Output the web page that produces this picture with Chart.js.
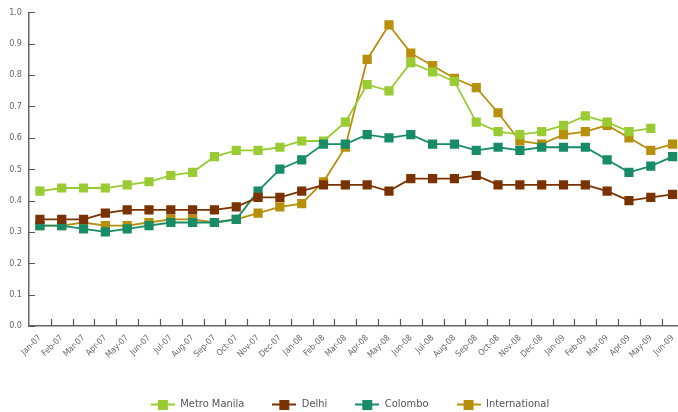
<!DOCTYPE html>
<html>
<head>
<meta charset="utf-8">
<script src="https://cdn.jsdelivr.net/npm/chart.js@4/dist/chart.umd.min.js"></script>
<style>
  html, body { margin: 0; padding: 0; background: #fff; overflow: hidden; }
  #wrap { width: 690px; height: 420px; }
</style>
</head>
<body>
<div id="wrap"><canvas id="chart" width="690" height="420"></canvas></div>
<script>
const months = ['Jan-07','Feb-07','Mar-07','Apr-07','May-07','Jun-07','Jul-07','Aug-07','Sep-07','Oct-07','Nov-07','Dec-07',
                'Jan-08','Feb-08','Mar-08','Apr-08','May-08','Jun-08','Jul-08','Aug-08','Sep-08','Oct-08','Nov-08','Dec-08',
                'Jan-09','Feb-09','Mar-09','Apr-09','May-09','Jun-09'];

const metroManila = [0.43,0.44,0.44,0.44,0.45,0.46,0.48,0.49,0.54,0.56,0.56,0.57,
                     0.59,0.59,0.65,0.77,0.75,0.84,0.81,0.78,0.65,0.62,0.61,0.62,
                     0.64,0.67,0.65,0.62,0.63,null];
const delhi = [0.34,0.34,0.34,0.36,0.37,0.37,0.37,0.37,0.37,0.38,0.41,0.41,
               0.43,0.45,0.45,0.45,0.43,0.47,0.47,0.47,0.48,0.45,0.45,0.45,
               0.45,0.45,0.43,0.40,0.41,0.42];
const colombo = [0.32,0.32,0.31,0.30,0.31,0.32,0.33,0.33,0.33,0.34,0.43,0.50,
                 0.53,0.58,0.58,0.61,0.60,0.61,0.58,0.58,0.56,0.57,0.56,0.57,
                 0.57,0.57,0.53,0.49,0.51,0.54];
const international = [0.32,0.32,0.33,0.32,0.32,0.33,0.34,0.34,0.33,0.34,0.36,0.38,
                       0.39,0.46,0.57,0.85,0.96,0.87,0.83,0.79,0.76,0.68,0.59,0.58,
                       0.61,0.62,0.64,0.60,0.56,0.58];

const yTicks = [0,0.1,0.2,0.3,0.4,0.5,0.6,0.7,0.8,0.9,1.0];

const FONT = "'Liberation Sans Narrow', 'DejaVu Sans Condensed', 'Roboto', sans-serif";

// legend symbol: short line with a square on it
function legendMark(color) {
    const c = document.createElement('canvas');
    c.width = 24; c.height = 10;
    const g = c.getContext('2d');
    g.strokeStyle = color;
    g.lineWidth = 2;
    g.beginPath(); g.moveTo(0, 5); g.lineTo(24, 5); g.stroke();
    g.fillStyle = color;
    g.fillRect(7, 0, 10, 10);
    return c;
}

function series(label, data, color, order) {
    return {
        label: label,
        data: data,
        borderColor: color,
        backgroundColor: color,
        borderWidth: 1.8,
        pointStyle: 'rect',
        pointRadius: 6.5,
        pointHoverRadius: 6.5,
        pointBorderWidth: 0,
        pointBackgroundColor: color,
        tension: 0,
        spanGaps: false,
        order: order,
        legendMark: legendMark(color)
    };
}

// small tick marks drawn inward from the axes
const innerTicks = {
    id: 'innerTicks',
    afterLayout(chart) {
        // nudge the legend a bit to the right
        chart.legend.left += 8;
        chart.legend.right += 8;
    },
    afterDraw(chart) {
        const ctx = chart.ctx;
        const y = chart.scales.y;
        const area = chart.chartArea;
        ctx.save();
        ctx.strokeStyle = '#555';
        ctx.lineWidth = 1.2;
        ctx.beginPath();
        const step = (area.right - area.left) / months.length;
        for (let i = 1; i <= months.length; i++) {
            const px = Math.round(area.left + i * step) + 0.5;
            ctx.moveTo(px, area.bottom);
            ctx.lineTo(px, area.bottom - 7);
        }
        yTicks.forEach(v => {
            const py = Math.round(y.getPixelForValue(v)) + 0.5;
            ctx.moveTo(area.left, py);
            ctx.lineTo(area.left + 6, py);
        });
        ctx.stroke();
        ctx.restore();
    }
};

new Chart(document.getElementById('chart'), {
    type: 'line',
    data: {
        labels: months,
        datasets: [
            series('Metro Manila', metroManila, '#99cc33', 2),
            series('Delhi', delhi, '#7a3300', 0),
            series('Colombo', colombo, '#178c66', 1),
            series('International', international, '#b88f0a', 3)
        ]
    },
    options: {
        responsive: false,
        animation: false,
        layout: { padding: { top: 10, right: 6, left: 0, bottom: 0 } },
        plugins: {
            tooltip: { enabled: false },
            legend: {
                position: 'bottom',
                labels: {
                    usePointStyle: true,
                    pointStyleWidth: 24,
                    padding: 28,
                    color: '#555',
                    font: { family: FONT, size: 11 },
                    sort: (a, b) => a.datasetIndex - b.datasetIndex,
                    generateLabels(chart) {
                        return chart.data.datasets.map((ds, i) => ({
                            text: ds.label,
                            fillStyle: ds.borderColor,
                            strokeStyle: ds.borderColor,
                            fontColor: '#555',
                            lineWidth: 0,
                            pointStyle: ds.legendMark,
                            datasetIndex: i,
                            hidden: false
                        }));
                    }
                }
            }
        },
        scales: {
            x: {
                offset: true,
                grid: { display: false, drawTicks: false },
                border: { display: true, color: '#666', width: 1.5 },
                ticks: {
                    autoSkip: false,
                    maxRotation: 45,
                    minRotation: 45,
                    padding: 7,
                    color: '#666',
                    font: { family: FONT, size: 8.5 }
                },
                afterFit(scale) { scale.height = 45; }
            },
            y: {
                min: 0,
                max: 1,
                afterBuildTicks(scale) { scale.ticks = yTicks.map(v => ({ value: v })); },
                grid: { display: false, drawTicks: false },
                border: { display: true, color: '#666', width: 1.5 },
                ticks: {
                    padding: 7,
                    color: '#666',
                    font: { family: FONT, size: 9 },
                    callback: v => v.toFixed(1)
                },
                afterFit(scale) { scale.width = 29; }
            }
        }
    },
    plugins: [innerTicks]
});
</script>
</body>
</html>
